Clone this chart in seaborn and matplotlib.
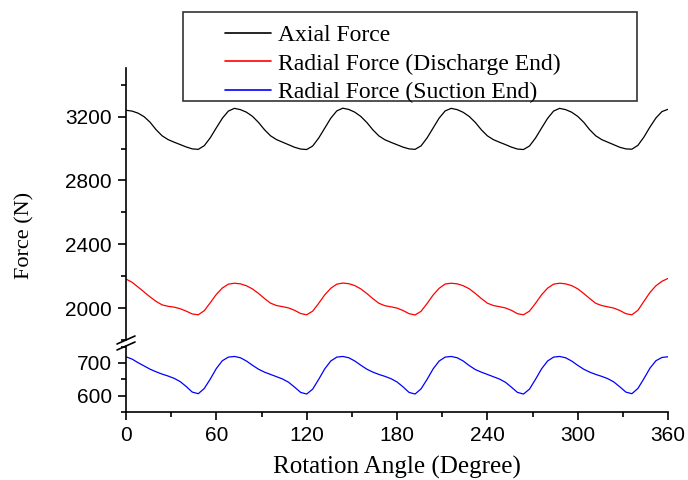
import numpy as np
import pandas as pd
import matplotlib
matplotlib.use("Agg")
import matplotlib.pyplot as plt
from matplotlib.lines import Line2D
from matplotlib.patches import Rectangle
from matplotlib.ticker import MultipleLocator
import seaborn as sns

# rotation angle grid, 4 degree steps 0..360
angle = np.arange(0, 361, 4)

axial_force = [
    3240, 3235, 3222, 3200, 3165, 3118, 3080, 3056, 3040, 3025, 3010, 2998, 2995, 3018, 3068, 3130, 3190, 3235,
    3252, 3244, 3228, 3202, 3164, 3118, 3080, 3056, 3040, 3024, 3008, 2997, 2994, 3016, 3066, 3128, 3190, 3236,
    3253, 3245, 3228, 3201, 3163, 3117, 3079, 3055, 3039, 3024, 3009, 2998, 2995, 3017, 3067, 3129, 3191, 3236,
    3252, 3244, 3227, 3201, 3164, 3118, 3080, 3056, 3040, 3025, 3009, 2997, 2994, 3016, 3066, 3128, 3189, 3235,
    3252, 3244, 3228, 3202, 3165, 3118, 3080, 3056, 3040, 3024, 3008, 2998, 2996, 3020, 3072, 3135, 3192, 3232,
    3246,
]

radial_discharge = [
    2182, 2162, 2132, 2101, 2070, 2042, 2020, 2011, 2006, 1996, 1981, 1963, 1958, 1984, 2034, 2086, 2126, 2150,
    2156, 2152, 2140, 2120, 2092, 2060, 2031, 2016, 2009, 2001, 1986, 1966, 1958, 1981, 2030, 2083, 2124, 2150,
    2157, 2153, 2141, 2120, 2091, 2059, 2030, 2015, 2008, 2000, 1985, 1965, 1957, 1980, 2029, 2082, 2124, 2151,
    2156, 2152, 2140, 2121, 2092, 2060, 2031, 2016, 2009, 2001, 1986, 1965, 1958, 1981, 2030, 2083, 2125, 2150,
    2156, 2152, 2141, 2121, 2092, 2060, 2030, 2016, 2008, 2000, 1985, 1965, 1958, 1986, 2042, 2098, 2140, 2168,
    2186,
]

radial_suction = [
    719, 712, 701, 691, 681, 673, 666, 660, 653, 643, 628, 611, 606, 622, 651, 683, 707, 718,
    720, 716, 706, 693, 681, 672, 665, 658, 651, 641, 626, 610, 605, 620, 650, 682, 706, 718,
    720, 716, 706, 693, 681, 672, 665, 659, 652, 642, 627, 610, 605, 621, 650, 682, 706, 718,
    720, 716, 706, 692, 680, 672, 665, 658, 651, 641, 626, 610, 605, 620, 650, 682, 706, 718,
    720, 716, 706, 693, 681, 672, 665, 659, 652, 642, 627, 611, 606, 622, 652, 684, 707, 717,
    719,
]

series_names = ["Axial Force", "Radial Force (Discharge End)", "Radial Force (Suction End)"]
series_colors = ["#000000", "#ff0000", "#0000ff"]

df = pd.DataFrame({
    "angle": angle,
    series_names[0]: axial_force,
    series_names[1]: radial_discharge,
    series_names[2]: radial_suction,
})

sns.set_style("ticks")
plt.rcParams["font.family"] = ["Liberation Sans", "DejaVu Sans"]
for key in ("text.color", "axes.labelcolor", "xtick.color", "ytick.color", "axes.edgecolor"):
    plt.rcParams[key] = "black"

W, H = 688, 480
fig = plt.figure(figsize=(W / 100, H / 100), dpi=100)


def fx(px):
    return px / W


def fy(py):
    return 1 - py / H


left, right = 126, 668
ax_top = fig.add_axes([fx(left), fy(340), fx(right - left), fy(68) - fy(340)])
ax_bot = fig.add_axes([fx(left), fy(412), fx(right - left), fy(346) - fy(412)])

lw = 0.9
sns.lineplot(data=df, x="angle", y=series_names[0], ax=ax_top, color=series_colors[0], lw=lw)
sns.lineplot(data=df, x="angle", y=series_names[1], ax=ax_top, color=series_colors[1], lw=lw)
sns.lineplot(data=df, x="angle", y=series_names[2], ax=ax_bot, color=series_colors[2], lw=lw)

for ax in (ax_top, ax_bot):
    ax.set_xlim(0, 360)
    ax.set_xlabel("")
    ax.set_ylabel("")
    for side in ("top", "right"):
        ax.spines[side].set_visible(False)
    ax.spines["left"].set_linewidth(1.2)
    ax.spines["bottom"].set_linewidth(1.2)
    ax.tick_params(which="major", direction="out", length=6, width=1.2, labelsize=15, pad=4)
    ax.tick_params(which="minor", direction="out", length=3.5, width=1.2)
    ax.xaxis.set_major_locator(MultipleLocator(60))
    ax.xaxis.set_minor_locator(MultipleLocator(30))

ax_top.set_ylim(1800, 3505)
ax_top.yaxis.set_major_locator(MultipleLocator(400))
ax_top.yaxis.set_minor_locator(MultipleLocator(200))
ax_top.spines["bottom"].set_visible(False)
ax_top.tick_params(axis="x", which="both", bottom=False, labelbottom=False)

ax_bot.set_ylim(550, 752)
ax_bot.yaxis.set_major_locator(MultipleLocator(100))
ax_bot.yaxis.set_minor_locator(MultipleLocator(50))

# axis titles in serif
serif = ["Liberation Serif", "DejaVu Serif"]
fig.text(fx(397), fy(467), "Rotation Angle (Degree)", ha="center", va="center",
         fontsize=18, family=serif)
fig.text(fx(25), fy(235), "Force (N)", ha="center", va="center", rotation=90,
         fontsize=16, family=serif)

# axis break marks
for yb in (344, 350):
    fig.add_artist(Line2D([fx(117), fx(135)], [fy(yb), fy(yb - 8)], color="black", lw=1.2))

# legend box
fig.add_artist(Rectangle((fx(183), fy(101)), fx(637 - 183), fy(12) - fy(101),
                         fill=False, edgecolor="#333333", lw=1.2))
handles = [Line2D([], [], color=c, lw=1.2) for c in series_colors]
fig.legend(handles, series_names, loc="upper left", bbox_to_anchor=(fx(208), fy(8)),
           frameon=False, prop={"family": serif, "size": 17}, handlelength=1.95,
           handletextpad=0.3, labelspacing=0.3, borderpad=0.2)

fig.savefig("out.png", dpi=100)
